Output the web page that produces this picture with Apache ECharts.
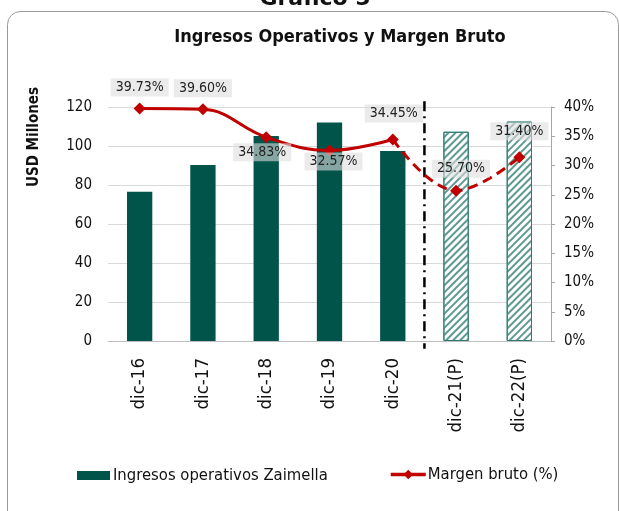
<!DOCTYPE html>
<html>
<head>
<meta charset="utf-8">
<script src="https://cdn.jsdelivr.net/npm/echarts@6/dist/echarts.min.js"></script>
<style>
  html, body { margin: 0; padding: 0; background: #fff; }
  #chart { width: 619px; height: 511px; }
</style>
</head>
<body>
<div id="chart"></div>
<script>
const categories = ['dic-16', 'dic-17', 'dic-18', 'dic-19', 'dic-20', 'dic-21(P)', 'dic-22(P)'];
const ingresos = [76.6, 90.3, 105.1, 112.0, 97.4, 107.3, 112.5];
const margen = [39.73, 39.60, 34.83, 32.57, 34.45, 25.70, 31.40];
const projectedFrom = 5; // first projected category
const leftTicks = [0, 20, 40, 60, 80, 100, 120];

const FONT = '"DejaVu Sans Condensed", "DejaVu Sans", sans-serif';
const GREEN = '#00544A';
const RED = '#C00000';

// label placement per point (layout only)
const labelLayout = [
  { position: 'top', offset: [0, 0] },
  { position: 'top', offset: [0, 0] },
  { position: 'bottom', offset: [-4, -6] },
  { position: 'bottom', offset: [4, -10] },
  { position: 'top', offset: [1, -5] },
  { position: 'top', offset: [5, -1] },
  { position: 'top', offset: [0, -5] }
];

const barData = ingresos.map((v, i) => i < projectedFrom ? v : {
  value: v,
  itemStyle: {
    color: '#ffffff',
    borderColor: '#2E7B70',
    borderWidth: 1,
    decal: {
      symbol: 'rect',
      color: '#5E9A91',
      dashArrayX: [1, 0],
      dashArrayY: [1.5, 2.5],
      rotation: -Math.PI / 4
    }
  }
});

const pointLabel = (i) => ({
  show: true,
  position: labelLayout[i].position,
  offset: labelLayout[i].offset,
  distance: 6,
  formatter: (p) => p.value.toFixed(2) + '%',
  backgroundColor: 'rgba(222,222,222,0.6)',
  padding: [2, 5],
  color: '#222',
  fontFamily: FONT,
  fontSize: 14
});

const solidData = margen.map((v, i) => i < projectedFrom ? { value: v, label: pointLabel(i) } : '-');
const dashData = margen.map((v, i) => i >= projectedFrom - 1
  ? { value: v, label: i >= projectedFrom ? pointLabel(i) : { show: false }, symbolSize: i >= projectedFrom ? 12 : 0 }
  : '-');

const chart = echarts.init(document.getElementById('chart'), null, { renderer: 'canvas' });

chart.setOption({
  animation: false,
  backgroundColor: '#fff',
  textStyle: { fontFamily: FONT },
  graphic: [
    {
      type: 'rect',
      shape: { x: 7.5, y: 11.5, width: 611, height: 530, r: 13 },
      style: { fill: 'none', stroke: '#9a9a9a', lineWidth: 1 },
      z: -1
    },
    {
      type: 'text',
      x: 315,
      y: 10,
      style: {
        text: 'Gráfico 5',
        font: 'bold 22px "DejaVu Sans"',
        fill: '#111',
        align: 'center',
        verticalAlign: 'bottom'
      }
    },
    {
      type: 'text',
      x: 340,
      y: 37,
      style: {
        text: 'Ingresos Operativos y Margen Bruto',
        font: 'bold 18px "DejaVu Sans Condensed", "DejaVu Sans"',
        fill: '#111',
        align: 'center',
        verticalAlign: 'middle'
      }
    },
    {
      type: 'text',
      x: 34,
      y: 137,
      rotation: Math.PI / 2,
      style: {
        text: 'USD Millones',
        font: 'bold 15px "DejaVu Sans Condensed", "DejaVu Sans"',
        fill: '#111',
        align: 'center',
        verticalAlign: 'middle'
      }
    }
  ],
  legend: [
    {
      left: 77,
      top: 467,
      padding: 0,
      itemWidth: 33,
      itemHeight: 9,
      itemGap: 0,
      data: [{ name: 'Ingresos operativos Zaimella', icon: 'rect' }],
      textStyle: { fontFamily: FONT, fontSize: 16.5, color: '#111', padding: [0, 0, 0, -2] }
    },
    {
      left: 389,
      top: 466,
      padding: 0,
      itemWidth: 35,
      itemHeight: 12,
      lineStyle: { width: 3.5 },
      data: ['Margen bruto (%)'],
      textStyle: { fontFamily: FONT, fontSize: 16.5, color: '#111', padding: [0, 0, 0, -3] }
    }
  ],
  grid: { left: 108, right: 68, top: 107, bottom: 170, containLabel: false },
  xAxis: [
    {
      type: 'category',
      data: categories,
      axisLine: { lineStyle: { color: '#BFBFBF' } },
      axisTick: { show: false },
      axisLabel: {
        rotate: 90,
        color: '#111',
        fontFamily: FONT,
        fontSize: 18.5,
        margin: 17,
        interval: 0
      }
    },
    {
      type: 'value',
      min: -0.5,
      max: categories.length - 0.5,
      show: false
    }
  ],
  yAxis: [
    {
      type: 'value',
      min: leftTicks[0],
      max: leftTicks[leftTicks.length - 1],
      interval: leftTicks[1] - leftTicks[0],
      axisLine: { show: false },
      axisTick: { show: false },
      splitLine: { lineStyle: { color: '#D9D9D9' } },
      axisLabel: { color: '#111', fontFamily: FONT, fontSize: 15, margin: 16 }
    },
    {
      type: 'value',
      min: 0,
      max: 40,
      interval: 5,
      position: 'right',
      axisLine: { show: true, lineStyle: { color: '#A6A6A6' } },
      axisTick: { show: true, length: 4, lineStyle: { color: '#A6A6A6' } },
      splitLine: { show: false },
      axisLabel: { color: '#111', fontFamily: FONT, fontSize: 15, margin: 13, formatter: '{value}%' }
    }
  ],
  series: [
    {
      name: 'Ingresos operativos Zaimella',
      type: 'bar',
      data: barData,
      barWidth: '40%',
      itemStyle: { color: GREEN },
      z: 2
    },
    {
      name: 'Margen bruto (%)',
      type: 'line',
      yAxisIndex: 1,
      data: solidData,
      smooth: 0.4,
      symbol: 'diamond',
      symbolSize: 12,
      lineStyle: { color: RED, width: 3 },
      itemStyle: { color: RED },
      z: 5
    },
    {
      name: 'Margen proyectado',
      type: 'line',
      yAxisIndex: 1,
      data: dashData,
      smooth: 0.4,
      symbol: 'diamond',
      lineStyle: { color: RED, width: 3, type: [10, 6] },
      itemStyle: { color: RED },
      z: 5
    },
    {
      name: 'separador',
      type: 'line',
      xAxisIndex: 1,
      yAxisIndex: 0,
      data: [[projectedFrom - 0.5, 123], [projectedFrom - 0.5, -4]],
      clip: false,
      symbol: 'none',
      lineStyle: { color: '#000', width: 2.5, type: [10, 5, 2, 5] },
      z: 4
    }
  ]
});
</script>
</body>
</html>
